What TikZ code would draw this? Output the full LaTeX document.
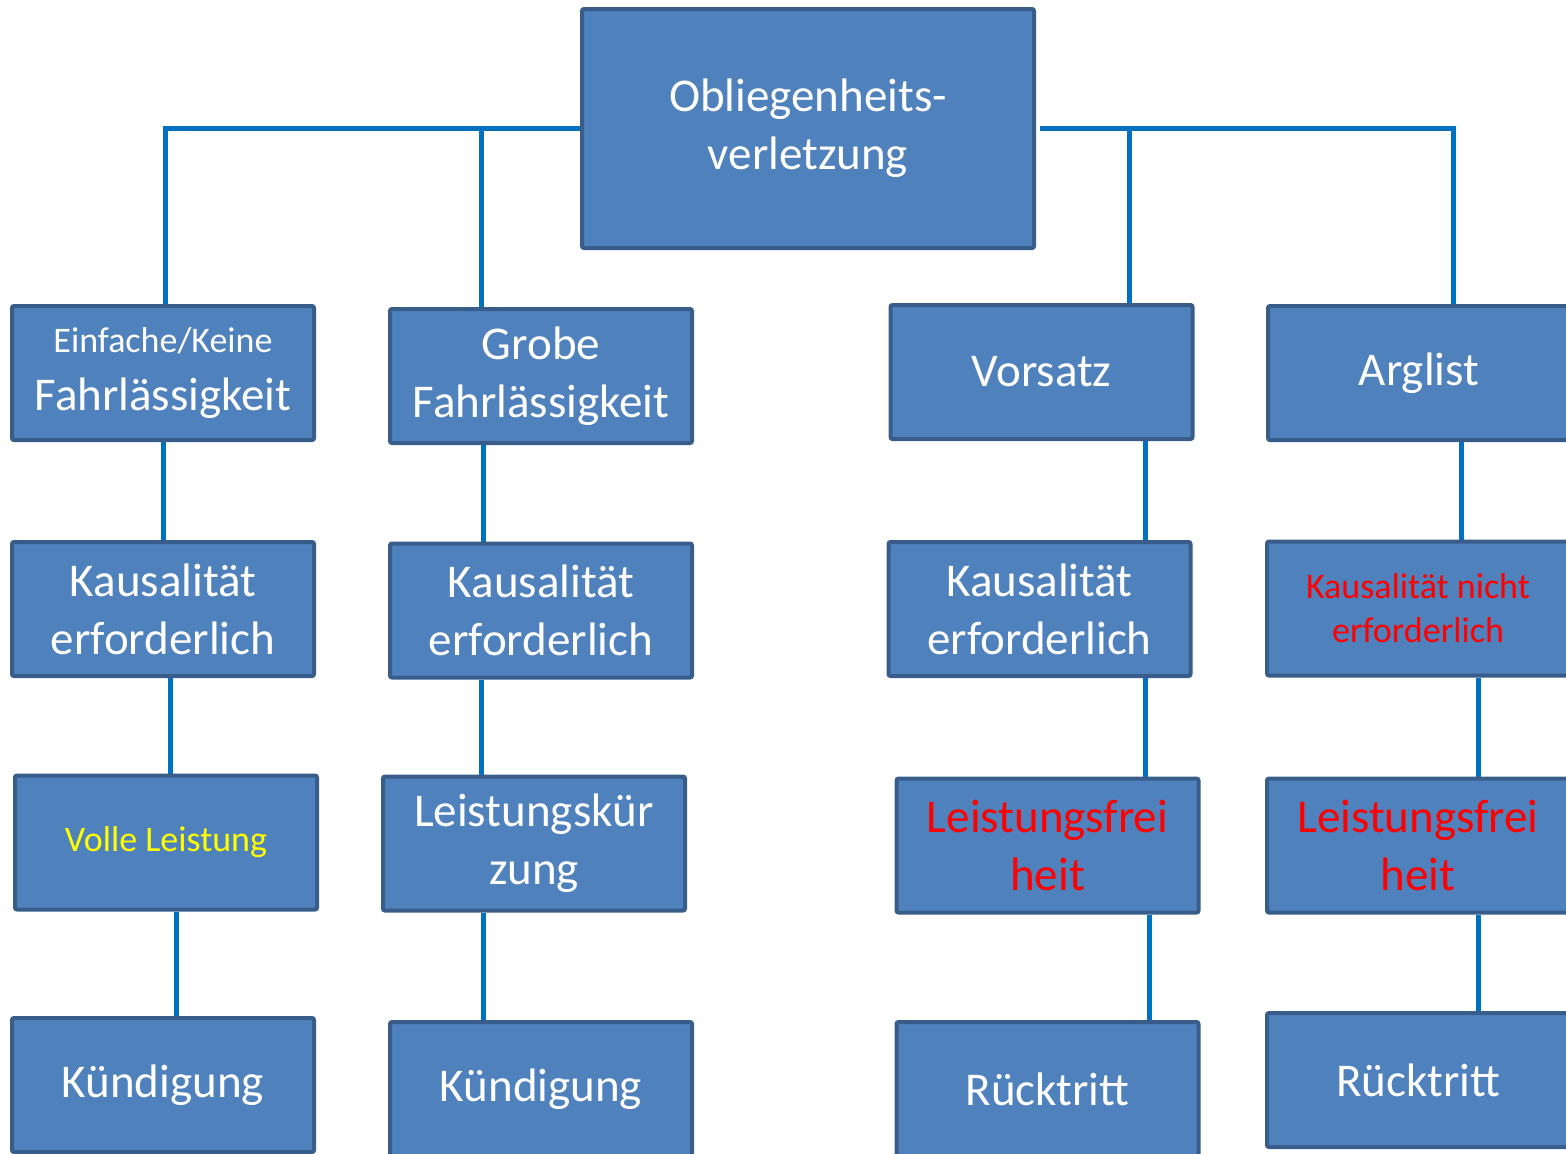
\documentclass[tikz,border=0pt]{standalone}
\usepackage{fontspec}
\setmainfont{Carlito}
\usetikzlibrary{backgrounds}
\definecolor{boxfill}{HTML}{4F81BD}
\definecolor{boxborder}{HTML}{385D8A}
\definecolor{conncol}{HTML}{0070C0}
\definecolor{redtxt}{HTML}{FF0000}
\definecolor{yellowtxt}{HTML}{FFFF00}
\newcommand\bigf{\fontsize{23.5}{29}\selectfont}
\newcommand\smallf{\fontsize{18}{22}\selectfont}
\tikzset{
  box/.style={draw=boxborder, fill=boxfill, line width=2pt, minimum width=151pt,
    minimum height=67pt, inner sep=0pt, align=center, text=white, font=\bigf,
    rounded corners=1pt},
  conn/.style={draw=conncol, line width=2.5pt}
}
\begin{document}
\begin{tikzpicture}[x=0.5pt,y=-0.5pt]
\useasboundingbox (0,0) rectangle (1566,1153);
\clip (0,0) rectangle (1566,1153);
% top
\node[box, minimum width=226pt, minimum height=119.5pt] (top) at (808,128.5) {Obliegenheits-\\verletzung};
% row 1
\node[box] (A1) at (163,373) {\smallf Einfache/Keine\\ \bigf Fahrlässigkeit};
\node[box] (B1) at (541,376) {Grobe\\Fahrlässigkeit};
\node[box] (C1) at (1041.5,372) {Vorsatz};
\node[box] (D1) at (1419,373) {Arglist};
% row 2
\node[box] (A2) at (163,609) {Kausalität\\erforderlich};
\node[box] (B2) at (541,610.5) {Kausalität\\erforderlich};
\node[box] (C2) at (1039.5,609) {Kausalität\\erforderlich};
\node[box, text=redtxt, font=\smallf] (D2) at (1418,608.5) {Kausalität nicht\\erforderlich};
% row 3
\node[box, text=yellowtxt, font=\smallf] (A3) at (166,842.5) {Volle Leistung};
\node[box] (B3) at (534,843.5) {Leistungskür\\zung};
\node[box, text=redtxt] (C3) at (1047.5,845.5) {Leistungsfrei\\heit};
\node[box, text=redtxt] (D3) at (1418,845.5) {Leistungsfrei\\heit};
% row 4
\node[box] (A4) at (163,1085) {Kündigung};
\node[box] (B4) at (541,1089) {Kündigung};
\node[box] (C4) at (1047.5,1089) {Rücktritt};
\node[box] (D4) at (1418,1080) {Rücktritt};
\begin{pgfonlayer}{background}
% top branches
\draw[conn] (top.west) -| ([xshift=1pt]A1.north);
\draw[conn] ([xshift=-30pt]B1.north) -- ([xshift=-30pt]B1.north |- top.west);
\draw[conn] ([xshift=2pt]top.east) -| ([xshift=17pt]D1.north);
\draw[conn] ([xshift=44pt]C1.north) -- ([xshift=44pt]C1.north |- top.east);
% column A
\draw[conn] (A1.south) -- (A1.south |- A2.north);
\draw[conn] ([xshift=3.5pt]A2.south) -- ([xshift=3.5pt]A2.south |- A3.north);
\draw[conn] ([xshift=5pt]A3.south) -- ([xshift=5pt]A3.south |- A4.north);
% column B
\draw[conn] ([xshift=-29pt]B1.south) -- ([xshift=-29pt]B1.south |- B2.north);
\draw[conn] ([xshift=-30pt]B2.south) -- ([xshift=-30pt]B2.south |- B3.north);
\draw[conn] ([xshift=-25.5pt]B3.south) -- ([xshift=-25.5pt]B3.south |- B4.north);
% column C
\draw[conn] ([xshift=52pt]C1.south) -- ([xshift=52pt]C1.south |- C2.north);
\draw[conn] ([xshift=53pt]C2.south) -- ([xshift=53pt]C2.south |- C3.north);
\draw[conn] ([xshift=51pt]C3.south) -- ([xshift=51pt]C3.south |- C4.north);
% column D
\draw[conn] ([xshift=21pt]D1.south) -- ([xshift=21pt]D1.south |- D2.north);
\draw[conn] ([xshift=30pt]D2.south) -- ([xshift=30pt]D2.south |- D3.north);
\draw[conn] ([xshift=30pt]D3.south) -- ([xshift=30pt]D3.south |- D4.north);
\end{pgfonlayer}
\end{tikzpicture}
\end{document}
